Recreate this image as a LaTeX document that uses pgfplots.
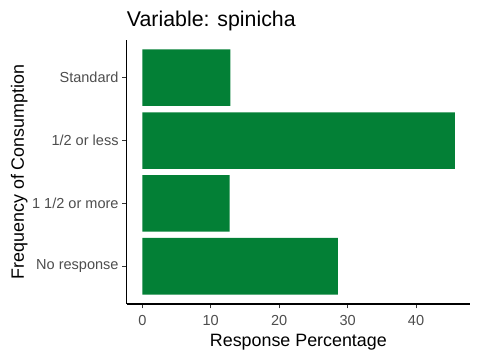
\documentclass[border=0pt]{standalone}
\usepackage{fontspec}
\setmainfont{Liberation Sans}
\usepackage{pgfplots}
\pgfplotsset{compat=1.18}
\definecolor{barg}{RGB}{3,128,54}
\definecolor{tickc}{RGB}{51,51,51}
\definecolor{labc}{RGB}{77,77,77}
\begin{document}
\begin{tikzpicture}
\path[use as bounding box] (-95.025pt,-42pt) rectangle (264.975pt,228pt);
\begin{axis}[
  at={(0,0)}, anchor=south west,
  scale only axis, width=257.5pt, height=198pt,
  xbar, bar width=0.9,
  xmin=-2.28, xmax=47.89, ymin=0.4, ymax=4.6,
  axis x line*=bottom, axis y line*=left,
  axis line style={black, line width=0.8pt, -},
  tick align=outside, major tick length=3.3pt,
  tick style={tickc, line width=0.8pt},
  xtick={0,10,20,30,40}, ytick={1,2,3,4},
  yticklabels={No response,1 1/2 or more,1/2 or less,Standard},
  minor tick num=0,
  /pgf/number format/assume math mode=true,
  xticklabel style={anchor=base, inner sep=0pt, yshift=-12.75pt, text=labc, font=\fontsize{10.9}{12}\selectfont},
  yticklabel style={anchor=east, inner sep=0pt, xshift=-2.6pt, text=labc, font=\fontsize{10.9}{12}\selectfont},
  every axis title shift=0pt,
  title={Variable: spinicha},
  title style={at={(axis description cs:0,1.053)}, anchor=base west, inner sep=0pt, font=\fontsize{16}{19}\selectfont},
  xlabel={Response Percentage},
  xlabel style={at={(axis description cs:0.5,-0.1617)}, anchor=base, inner sep=0pt, font=\fontsize{13.4}{16}\selectfont},
  ylabel={Frequency of Consumption},
  ylabel style={at={(axis description cs:-0.2993,0.5)}, anchor=base, inner sep=0pt, font=\fontsize{13.4}{16}\selectfont},
]
\addplot[fill=barg, draw=none] coordinates {(28.57,1) (12.75,2) (45.66,3) (12.86,4)};
\end{axis}
\end{tikzpicture}
\end{document}
